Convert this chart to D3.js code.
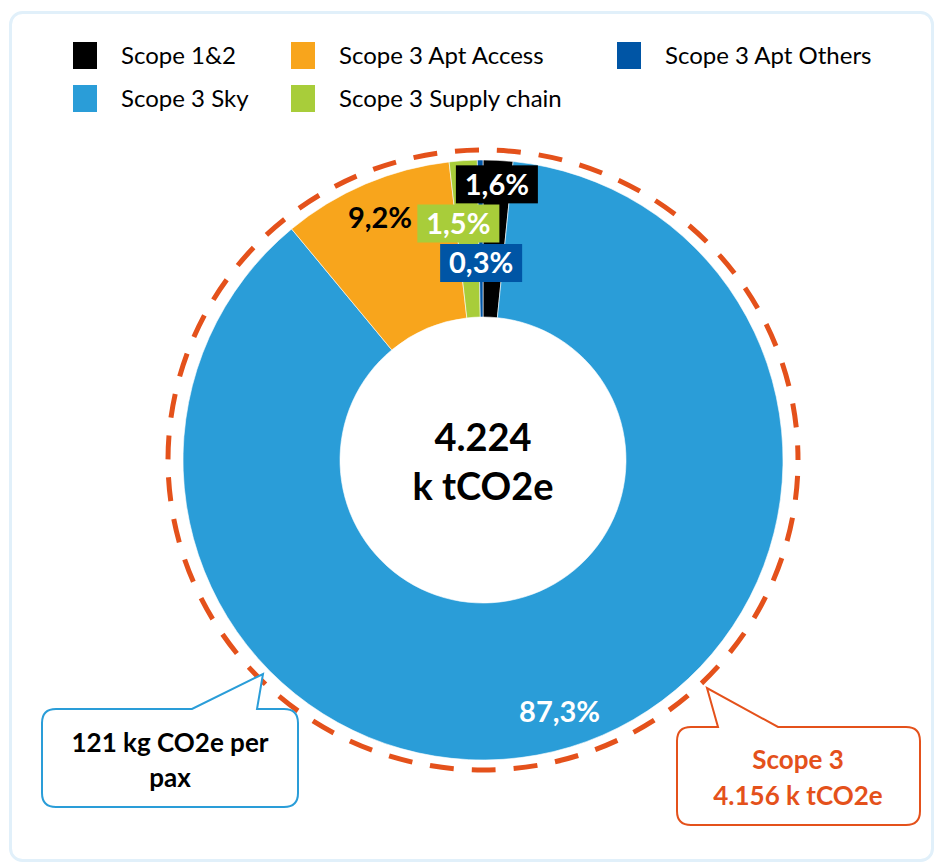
<!DOCTYPE html>
<html>
<head>
<meta charset="utf-8">
<script src="https://cdn.jsdelivr.net/npm/d3@7"></script>
<style>
  html, body { margin: 0; padding: 0; background: #fff; }
  svg { display: block; font-family: Lato, "Noto Sans", sans-serif; }
</style>
</head>
<body>
<div id="chart"></div>
<script>
// Emissions split (share of total, %)
const categories = ["Scope 1&2", "Scope 3 Sky", "Scope 3 Apt Access", "Scope 3 Supply chain", "Scope 3 Apt Others"];
const shares = [1.6, 87.3, 9.2, 1.5, 0.3];
const shareLabels = ["1,6%", "87,3%", "9,2%", "1,5%", "0,3%"];
const legendOrder = ["Scope 1&2", "Scope 3 Apt Access", "Scope 3 Apt Others", "Scope 3 Sky", "Scope 3 Supply chain"];
const totalText = ["4.224", "k tCO2e"];
const scope3Text = ["Scope 3", "4.156 k tCO2e"];
const perPaxText = ["121 kg CO2e per", "pax"];

const colors = {
    "Scope 1&2": "#000000",
    "Scope 3 Sky": "#2a9dd8",
    "Scope 3 Apt Access": "#f8a51c",
    "Scope 3 Supply chain": "#a8cd3a",
    "Scope 3 Apt Others": "#0055a5"
};
const orange = "#e4511b";

const W = 935, H = 865;
const cx = 483, cy = 460;
const outerR = 300, innerR = 143;

const svg = d3.select("#chart")
    .append("svg")
    .attr("width", W)
    .attr("height", H);

// card background
svg.append("rect")
    .attr("x", 10.5).attr("y", 12.5)
    .attr("width", 922).attr("height", 848)
    .attr("rx", 12)
    .attr("fill", "#fff")
    .attr("stroke", "#e1f0fa")
    .attr("stroke-width", 3);

// Legend (3 columns, 2 rows)
const legCols = [73, 291, 617], legRows = [42, 85];
const legend = svg.append("g");
legendOrder.forEach((name, i) => {
    const gx = legCols[i % 3], gy = legRows[Math.floor(i / 3)];
    legend.append("rect")
        .attr("x", gx).attr("y", gy)
        .attr("width", 24).attr("height", 27)
        .attr("fill", colors[name]);
    legend.append("text")
        .attr("x", gx + 48).attr("y", gy + 22)
        .attr("font-size", "24px")
        .attr("fill", "#000")
        .text(name);
});

const data = categories.map((c, i) => ({ name: c, value: shares[i], label: shareLabels[i] }));

const pie = d3.pie().sort(null).value(d => d.value);
const arcs = pie(data);
const arc = d3.arc().innerRadius(innerR).outerRadius(outerR);

const g = svg.append("g").attr("transform", `translate(${cx},${cy})`);

g.selectAll("path.slice")
    .data(arcs)
    .enter()
    .append("path")
    .attr("class", "slice")
    .attr("d", arc)
    .attr("fill", d => colors[d.data.name])
    .attr("stroke", "#fff")
    .attr("stroke-width", 0.6);

// dashed Scope 3 ring
g.append("ellipse")
    .attr("cx", 0).attr("cy", 0)
    .attr("rx", 315).attr("ry", 310)
    .attr("fill", "none")
    .attr("stroke", orange)
    .attr("stroke-width", 5)
    .attr("stroke-dasharray", "24 18")
    .attr("stroke-dashoffset", -16);

// data labels: radius along slice mid-angle, small slices get boxed labels
const labelR = { "Scope 1&2": 276, "Scope 3 Sky": 263, "Scope 3 Apt Access": 263, "Scope 3 Supply chain": 237, "Scope 3 Apt Others": 197 };
const labelDx = { "Scope 3 Supply chain": -9 };
const boxed = ["Scope 1&2", "Scope 3 Supply chain", "Scope 3 Apt Others"];

arcs.forEach(d => {
    const a = (d.startAngle + d.endAngle) / 2;
    const r = labelR[d.data.name];
    const x = r * Math.sin(a) + (labelDx[d.data.name] || 0);
    const y = -r * Math.cos(a);
    const isBoxed = boxed.includes(d.data.name);
    if (isBoxed) {
        g.append("rect")
            .attr("x", x - 41).attr("y", y - 19)
            .attr("width", 82).attr("height", 38)
            .attr("fill", colors[d.data.name]);
    }
    g.append("text")
        .attr("x", x).attr("y", y)
        .attr("dy", "0.36em")
        .attr("text-anchor", "middle")
        .attr("font-size", "29px")
        .attr("font-weight", "bold")
        .attr("fill", (isBoxed || d.data.name === "Scope 3 Sky") ? "#fff" : "#000")
        .text(d.data.label);
});

// centre total
totalText.forEach((t, i) => {
    g.append("text")
        .attr("x", 0).attr("y", -9 + i * 49)
        .attr("text-anchor", "middle")
        .attr("font-size", "38px")
        .attr("font-weight", "bold")
        .attr("fill", "#000")
        .text(t);
});

// callout boxes
function calloutPath(x, y, w, h, r, p1, p2, tip) {
    return `M${x + r},${y} L${p1},${y} L${tip[0]},${tip[1]} L${p2},${y} L${x + w - r},${y}` +
        ` Q${x + w},${y} ${x + w},${y + r} L${x + w},${y + h - r}` +
        ` Q${x + w},${y + h} ${x + w - r},${y + h} L${x + r},${y + h}` +
        ` Q${x},${y + h} ${x},${y + h - r} L${x},${y + r} Q${x},${y} ${x + r},${y} Z`;
}

svg.append("path")
    .attr("d", calloutPath(42, 709, 256, 98, 14, 192, 257, [263, 674]))
    .attr("fill", "#fff")
    .attr("stroke", "#2a9dd8")
    .attr("stroke-width", 2);
perPaxText.forEach((t, i) => {
    svg.append("text")
        .attr("x", 170).attr("y", 752 + i * 35)
        .attr("text-anchor", "middle")
        .attr("font-size", "26px")
        .attr("font-weight", "bold")
        .attr("fill", "#000")
        .text(t);
});

svg.append("path")
    .attr("d", calloutPath(677, 727, 243, 98, 14, 718, 778, [707, 688]))
    .attr("fill", "#fff")
    .attr("stroke", orange)
    .attr("stroke-width", 2);
scope3Text.forEach((t, i) => {
    svg.append("text")
        .attr("x", 798).attr("y", 769 + i * 36)
        .attr("text-anchor", "middle")
        .attr("font-size", "26px")
        .attr("font-weight", "bold")
        .attr("fill", orange)
        .text(t);
});
</script>
</body>
</html>
